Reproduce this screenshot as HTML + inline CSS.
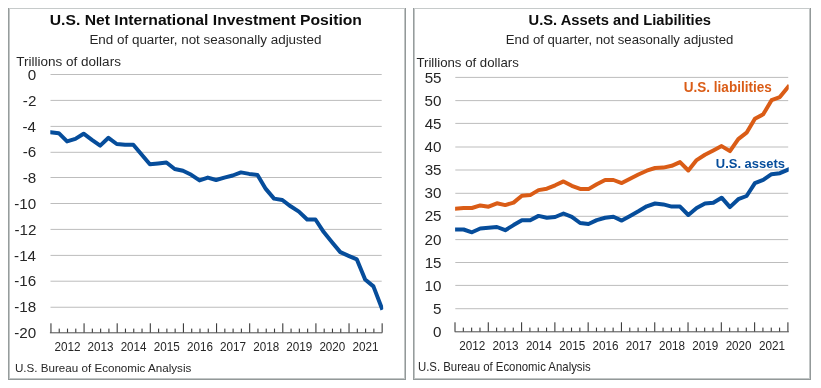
<!DOCTYPE html>
<html><head><meta charset="utf-8"><style>
html,body{margin:0;padding:0;background:#fff;width:821px;height:388px;overflow:hidden}
svg{display:block;font-family:"Liberation Sans",sans-serif;will-change:transform}
</style></head><body>
<svg width="821" height="388" viewBox="0 0 821 388" font-family="Liberation Sans, sans-serif">
<rect width="821" height="388" fill="#fff"/>
<rect x="8" y="8" width="398" height="372" fill="#fff"/>
<rect x="8" y="8" width="398" height="1" fill="#c6caca"/>
<rect x="8" y="8" width="1" height="372" fill="#969c9c"/>
<rect x="9" y="9" width="1" height="369" fill="#c2c6c6"/>
<rect x="404" y="9" width="1" height="370" fill="#c2c6c6"/>
<rect x="405" y="8" width="1" height="372" fill="#939999"/>
<rect x="9" y="378" width="396" height="1" fill="#c2c6c6"/>
<rect x="8" y="379" width="398" height="1" fill="#939999"/>
<rect x="413" y="8" width="398" height="372" fill="#fff"/>
<rect x="413" y="8" width="398" height="1" fill="#c6caca"/>
<rect x="413" y="8" width="1" height="372" fill="#969c9c"/>
<rect x="414" y="9" width="1" height="369" fill="#c2c6c6"/>
<rect x="809" y="9" width="1" height="370" fill="#c2c6c6"/>
<rect x="810" y="8" width="1" height="372" fill="#939999"/>
<rect x="414" y="378" width="396" height="1" fill="#c2c6c6"/>
<rect x="413" y="379" width="398" height="1" fill="#939999"/>
<text x="49.76" y="25.3" font-size="15.12" textLength="312.21" lengthAdjust="spacingAndGlyphs" font-weight="bold" fill="#0d0d0d">U.S. Net International Investment Position</text>
<text x="89.4" y="43.8" font-size="12.5" textLength="232.07" lengthAdjust="spacingAndGlyphs" fill="#262626">End of quarter, not seasonally adjusted</text>
<text x="16.3" y="65.9" font-size="13.23" textLength="104.59" lengthAdjust="spacingAndGlyphs" fill="#262626">Trillions of dollars</text>
<rect x="50.5" y="74" width="331.2" height="1" fill="#bdbdbd"/>
<rect x="50.5" y="99.9" width="331.2" height="1" fill="#bdbdbd"/>
<rect x="50.5" y="125.9" width="331.2" height="1" fill="#bdbdbd"/>
<rect x="50.5" y="151.8" width="331.2" height="1" fill="#bdbdbd"/>
<rect x="50.5" y="177" width="331.2" height="1" fill="#bdbdbd"/>
<rect x="50.5" y="203" width="331.2" height="1" fill="#bdbdbd"/>
<rect x="50.5" y="228.9" width="331.2" height="1" fill="#bdbdbd"/>
<rect x="50.5" y="254.9" width="331.2" height="1" fill="#bdbdbd"/>
<rect x="50.5" y="280.7" width="331.2" height="1" fill="#bdbdbd"/>
<rect x="50.5" y="306.75" width="331.2" height="1" fill="#bdbdbd"/>
<rect x="49.9" y="332.1" width="332.4" height="1.3" fill="#757575"/>
<rect x="50.4" y="323.3" width="1.1" height="9.3" fill="#3c3c3c"/>
<rect x="58.68" y="328.6" width="1.1" height="4" fill="#3c3c3c"/>
<rect x="66.96" y="328.6" width="1.1" height="4" fill="#3c3c3c"/>
<rect x="75.24" y="328.6" width="1.1" height="4" fill="#3c3c3c"/>
<rect x="83.52" y="323.3" width="1.1" height="9.3" fill="#3c3c3c"/>
<rect x="91.8" y="328.6" width="1.1" height="4" fill="#3c3c3c"/>
<rect x="100.08" y="328.6" width="1.1" height="4" fill="#3c3c3c"/>
<rect x="108.36" y="328.6" width="1.1" height="4" fill="#3c3c3c"/>
<rect x="116.64" y="323.3" width="1.1" height="9.3" fill="#3c3c3c"/>
<rect x="124.92" y="328.6" width="1.1" height="4" fill="#3c3c3c"/>
<rect x="133.2" y="328.6" width="1.1" height="4" fill="#3c3c3c"/>
<rect x="141.48" y="328.6" width="1.1" height="4" fill="#3c3c3c"/>
<rect x="149.76" y="323.3" width="1.1" height="9.3" fill="#3c3c3c"/>
<rect x="158.04" y="328.6" width="1.1" height="4" fill="#3c3c3c"/>
<rect x="166.32" y="328.6" width="1.1" height="4" fill="#3c3c3c"/>
<rect x="174.6" y="328.6" width="1.1" height="4" fill="#3c3c3c"/>
<rect x="182.88" y="323.3" width="1.1" height="9.3" fill="#3c3c3c"/>
<rect x="191.16" y="328.6" width="1.1" height="4" fill="#3c3c3c"/>
<rect x="199.44" y="328.6" width="1.1" height="4" fill="#3c3c3c"/>
<rect x="207.72" y="328.6" width="1.1" height="4" fill="#3c3c3c"/>
<rect x="216" y="323.3" width="1.1" height="9.3" fill="#3c3c3c"/>
<rect x="224.28" y="328.6" width="1.1" height="4" fill="#3c3c3c"/>
<rect x="232.56" y="328.6" width="1.1" height="4" fill="#3c3c3c"/>
<rect x="240.84" y="328.6" width="1.1" height="4" fill="#3c3c3c"/>
<rect x="249.12" y="323.3" width="1.1" height="9.3" fill="#3c3c3c"/>
<rect x="257.4" y="328.6" width="1.1" height="4" fill="#3c3c3c"/>
<rect x="265.68" y="328.6" width="1.1" height="4" fill="#3c3c3c"/>
<rect x="273.96" y="328.6" width="1.1" height="4" fill="#3c3c3c"/>
<rect x="282.24" y="323.3" width="1.1" height="9.3" fill="#3c3c3c"/>
<rect x="290.52" y="328.6" width="1.1" height="4" fill="#3c3c3c"/>
<rect x="298.8" y="328.6" width="1.1" height="4" fill="#3c3c3c"/>
<rect x="307.08" y="328.6" width="1.1" height="4" fill="#3c3c3c"/>
<rect x="315.36" y="323.3" width="1.1" height="9.3" fill="#3c3c3c"/>
<rect x="323.64" y="328.6" width="1.1" height="4" fill="#3c3c3c"/>
<rect x="331.92" y="328.6" width="1.1" height="4" fill="#3c3c3c"/>
<rect x="340.2" y="328.6" width="1.1" height="4" fill="#3c3c3c"/>
<rect x="348.48" y="323.3" width="1.1" height="9.3" fill="#3c3c3c"/>
<rect x="356.76" y="328.6" width="1.1" height="4" fill="#3c3c3c"/>
<rect x="365.04" y="328.6" width="1.1" height="4" fill="#3c3c3c"/>
<rect x="373.32" y="328.6" width="1.1" height="4" fill="#3c3c3c"/>
<rect x="381.6" y="323.3" width="1.1" height="9.3" fill="#3c3c3c"/>
<text x="27.75" y="79.65" font-size="15.19" fill="#262626">0</text>
<text x="22.86" y="105.55" font-size="15.19" fill="#262626">-2</text>
<text x="22.54" y="131.55" font-size="15.19" fill="#262626">-4</text>
<text x="22.77" y="157.45" font-size="15.19" fill="#262626">-6</text>
<text x="22.75" y="182.65" font-size="15.19" fill="#262626">-8</text>
<text x="14.25" y="208.65" font-size="15.19" fill="#262626">-10</text>
<text x="14.42" y="234.55" font-size="15.19" fill="#262626">-12</text>
<text x="14.1" y="260.55" font-size="15.19" fill="#262626">-14</text>
<text x="14.32" y="286.35" font-size="15.19" fill="#262626">-16</text>
<text x="14.31" y="312.4" font-size="15.19" fill="#262626">-18</text>
<text x="14.25" y="338" font-size="15.19" fill="#262626">-20</text>
<clipPath id="c84"><rect x="50.3" y="0" width="332.9" height="388"/></clipPath>
<polyline clip-path="url(#c84)" points="50.5,132.2 58.78,133.2 67.06,141.4 75.34,138.9 83.62,133.7 91.9,139.9 100.18,145.6 108.46,137.8 116.74,144 125.02,144.8 133.3,144.7 141.58,154.5 149.86,164.3 158.14,163.4 166.42,162.5 174.7,169 182.98,170.8 191.26,174.8 199.54,180.4 207.82,177.6 216.1,180 224.38,177.6 232.66,175.5 240.94,172.4 249.22,173.9 257.5,175 265.78,188.9 274.06,198.6 282.34,200 290.62,206.3 298.9,211.6 307.18,219.5 315.46,219.5 323.74,232.1 332.02,242.3 340.3,252.1 348.58,255.8 356.86,259.4 365.14,279.5 373.42,286.4 381.7,307.8" fill="none" stroke="#064d9b" stroke-width="4" stroke-linejoin="round" stroke-linecap="square"/>
<text x="54.42" y="351" font-size="12.03" textLength="26.08" lengthAdjust="spacingAndGlyphs" fill="#262626">2012</text>
<text x="87.55" y="351" font-size="12.03" textLength="26.01" lengthAdjust="spacingAndGlyphs" fill="#262626">2013</text>
<text x="120.67" y="351" font-size="12.03" textLength="25.82" lengthAdjust="spacingAndGlyphs" fill="#262626">2014</text>
<text x="153.79" y="351" font-size="12.03" textLength="25.98" lengthAdjust="spacingAndGlyphs" fill="#262626">2015</text>
<text x="186.91" y="351" font-size="12.03" textLength="26.01" lengthAdjust="spacingAndGlyphs" fill="#262626">2016</text>
<text x="220.02" y="351" font-size="12.03" textLength="26.08" lengthAdjust="spacingAndGlyphs" fill="#262626">2017</text>
<text x="253.15" y="351" font-size="12.03" textLength="25.99" lengthAdjust="spacingAndGlyphs" fill="#262626">2018</text>
<text x="286.26" y="351" font-size="12.03" textLength="26.04" lengthAdjust="spacingAndGlyphs" fill="#262626">2019</text>
<text x="319.39" y="351" font-size="12.03" textLength="25.95" lengthAdjust="spacingAndGlyphs" fill="#262626">2020</text>
<text x="352.5" y="351" font-size="12.03" textLength="26.07" lengthAdjust="spacingAndGlyphs" fill="#262626">2021</text>
<text x="14.9" y="371.8" font-size="11.77" textLength="176.41" lengthAdjust="spacingAndGlyphs" fill="#262626">U.S. Bureau of Economic Analysis</text>
<text x="528.62" y="25.2" font-size="15.26" textLength="182.39" lengthAdjust="spacingAndGlyphs" font-weight="bold" fill="#0d0d0d">U.S. Assets and Liabilities</text>
<text x="505.82" y="43.8" font-size="13.37" textLength="227.53" lengthAdjust="spacingAndGlyphs" fill="#262626">End of quarter, not seasonally adjusted</text>
<text x="416.41" y="66.5" font-size="12.79" textLength="102.37" lengthAdjust="spacingAndGlyphs" fill="#262626">Trillions of dollars</text>
<rect x="455.3" y="76.9" width="332.9" height="1" fill="#bdbdbd"/>
<rect x="455.3" y="100.1" width="332.9" height="1" fill="#bdbdbd"/>
<rect x="455.3" y="122.9" width="332.9" height="1" fill="#bdbdbd"/>
<rect x="455.3" y="146.5" width="332.9" height="1" fill="#bdbdbd"/>
<rect x="455.3" y="169.5" width="332.9" height="1" fill="#bdbdbd"/>
<rect x="455.3" y="192.8" width="332.9" height="1" fill="#bdbdbd"/>
<rect x="455.3" y="215.8" width="332.9" height="1" fill="#bdbdbd"/>
<rect x="455.3" y="239.1" width="332.9" height="1" fill="#bdbdbd"/>
<rect x="455.3" y="262" width="332.9" height="1" fill="#bdbdbd"/>
<rect x="455.3" y="284.9" width="332.9" height="1" fill="#bdbdbd"/>
<rect x="455.3" y="308.2" width="332.9" height="1" fill="#bdbdbd"/>
<rect x="454.7" y="331.1" width="334.1" height="1.3" fill="#757575"/>
<rect x="454.45" y="322.3" width="1.1" height="9.3" fill="#3c3c3c"/>
<rect x="462.77" y="327.6" width="1.1" height="4" fill="#3c3c3c"/>
<rect x="471.09" y="327.6" width="1.1" height="4" fill="#3c3c3c"/>
<rect x="479.42" y="327.6" width="1.1" height="4" fill="#3c3c3c"/>
<rect x="487.74" y="322.3" width="1.1" height="9.3" fill="#3c3c3c"/>
<rect x="496.06" y="327.6" width="1.1" height="4" fill="#3c3c3c"/>
<rect x="504.38" y="327.6" width="1.1" height="4" fill="#3c3c3c"/>
<rect x="512.71" y="327.6" width="1.1" height="4" fill="#3c3c3c"/>
<rect x="521.03" y="322.3" width="1.1" height="9.3" fill="#3c3c3c"/>
<rect x="529.35" y="327.6" width="1.1" height="4" fill="#3c3c3c"/>
<rect x="537.68" y="327.6" width="1.1" height="4" fill="#3c3c3c"/>
<rect x="546" y="327.6" width="1.1" height="4" fill="#3c3c3c"/>
<rect x="554.32" y="322.3" width="1.1" height="9.3" fill="#3c3c3c"/>
<rect x="562.64" y="327.6" width="1.1" height="4" fill="#3c3c3c"/>
<rect x="570.97" y="327.6" width="1.1" height="4" fill="#3c3c3c"/>
<rect x="579.29" y="327.6" width="1.1" height="4" fill="#3c3c3c"/>
<rect x="587.61" y="322.3" width="1.1" height="9.3" fill="#3c3c3c"/>
<rect x="595.93" y="327.6" width="1.1" height="4" fill="#3c3c3c"/>
<rect x="604.26" y="327.6" width="1.1" height="4" fill="#3c3c3c"/>
<rect x="612.58" y="327.6" width="1.1" height="4" fill="#3c3c3c"/>
<rect x="620.9" y="322.3" width="1.1" height="9.3" fill="#3c3c3c"/>
<rect x="629.22" y="327.6" width="1.1" height="4" fill="#3c3c3c"/>
<rect x="637.55" y="327.6" width="1.1" height="4" fill="#3c3c3c"/>
<rect x="645.87" y="327.6" width="1.1" height="4" fill="#3c3c3c"/>
<rect x="654.19" y="322.3" width="1.1" height="9.3" fill="#3c3c3c"/>
<rect x="662.51" y="327.6" width="1.1" height="4" fill="#3c3c3c"/>
<rect x="670.84" y="327.6" width="1.1" height="4" fill="#3c3c3c"/>
<rect x="679.16" y="327.6" width="1.1" height="4" fill="#3c3c3c"/>
<rect x="687.48" y="322.3" width="1.1" height="9.3" fill="#3c3c3c"/>
<rect x="695.8" y="327.6" width="1.1" height="4" fill="#3c3c3c"/>
<rect x="704.13" y="327.6" width="1.1" height="4" fill="#3c3c3c"/>
<rect x="712.45" y="327.6" width="1.1" height="4" fill="#3c3c3c"/>
<rect x="720.77" y="322.3" width="1.1" height="9.3" fill="#3c3c3c"/>
<rect x="729.09" y="327.6" width="1.1" height="4" fill="#3c3c3c"/>
<rect x="737.42" y="327.6" width="1.1" height="4" fill="#3c3c3c"/>
<rect x="745.74" y="327.6" width="1.1" height="4" fill="#3c3c3c"/>
<rect x="754.06" y="322.3" width="1.1" height="9.3" fill="#3c3c3c"/>
<rect x="762.38" y="327.6" width="1.1" height="4" fill="#3c3c3c"/>
<rect x="770.71" y="327.6" width="1.1" height="4" fill="#3c3c3c"/>
<rect x="779.03" y="327.6" width="1.1" height="4" fill="#3c3c3c"/>
<rect x="787.35" y="322.3" width="1.1" height="9.3" fill="#3c3c3c"/>
<text x="424.65" y="82.55" font-size="15.19" fill="#262626">55</text>
<text x="424.61" y="105.75" font-size="15.19" fill="#262626">50</text>
<text x="424.65" y="128.55" font-size="15.19" fill="#262626">45</text>
<text x="424.61" y="152.15" font-size="15.19" fill="#262626">40</text>
<text x="424.65" y="175.15" font-size="15.19" fill="#262626">35</text>
<text x="424.61" y="198.45" font-size="15.19" fill="#262626">30</text>
<text x="424.65" y="221.45" font-size="15.19" fill="#262626">25</text>
<text x="424.61" y="244.75" font-size="15.19" fill="#262626">20</text>
<text x="424.65" y="267.65" font-size="15.19" fill="#262626">15</text>
<text x="424.61" y="290.55" font-size="15.19" fill="#262626">10</text>
<text x="433.09" y="313.85" font-size="15.19" fill="#262626">5</text>
<text x="433.05" y="336.65" font-size="15.19" fill="#262626">0</text>
<clipPath id="c165"><rect x="455.1" y="0" width="333.6" height="388"/></clipPath>
<polyline clip-path="url(#c165)" points="455.3,208.8 463.62,208 471.94,208 480.27,205.4 488.59,206.7 496.91,203.3 505.24,205.1 513.56,202.6 521.88,195.8 530.2,195.1 538.53,190.1 546.85,188.7 555.17,185.3 563.49,181.4 571.82,185.8 580.14,188.9 588.46,189.1 596.78,184.2 605.11,180 613.43,180 621.75,183.1 630.07,178.7 638.39,174.5 646.72,170.7 655.04,168 663.36,167.6 671.69,165.8 680.01,162.1 688.33,170.5 696.65,160.1 704.98,154.7 713.3,150.5 721.62,146.1 729.94,151.1 738.27,139.1 746.59,132.7 754.91,118.7 763.23,114.3 771.56,100.2 779.88,97.1 788.2,86.9" fill="none" stroke="#da5c16" stroke-width="4" stroke-linejoin="round" stroke-linecap="square"/>
<clipPath id="c167"><rect x="455.1" y="0" width="333.6" height="388"/></clipPath>
<polyline clip-path="url(#c167)" points="455.3,229.5 463.62,229.5 471.94,232.3 480.27,228.5 488.59,227.8 496.91,227 505.24,230.2 513.56,225.1 521.88,220.3 530.2,220.2 538.53,215.9 546.85,217.8 555.17,217 563.49,213.5 571.82,216.9 580.14,223 588.46,224 596.78,220.1 605.11,217.8 613.43,216.8 621.75,220.6 630.07,216 638.39,211.3 646.72,206.3 655.04,203.5 663.36,204.4 671.69,206.6 680.01,206.6 688.33,215 696.65,208 704.98,203.6 713.3,202.7 721.62,197.7 729.94,207.1 738.27,199.2 746.59,196 754.91,183.2 763.23,179.9 771.56,174.2 779.88,173.2 788.2,169.6" fill="none" stroke="#064d9b" stroke-width="4" stroke-linejoin="round" stroke-linecap="square"/>
<text x="459.31" y="350.1" font-size="12.18" textLength="26.08" lengthAdjust="spacingAndGlyphs" fill="#262626">2012</text>
<text x="492.6" y="350.1" font-size="12.18" textLength="26.01" lengthAdjust="spacingAndGlyphs" fill="#262626">2013</text>
<text x="525.89" y="350.1" font-size="12.18" textLength="25.82" lengthAdjust="spacingAndGlyphs" fill="#262626">2014</text>
<text x="559.18" y="350.1" font-size="12.18" textLength="25.98" lengthAdjust="spacingAndGlyphs" fill="#262626">2015</text>
<text x="592.47" y="350.1" font-size="12.18" textLength="26.01" lengthAdjust="spacingAndGlyphs" fill="#262626">2016</text>
<text x="625.76" y="350.1" font-size="12.18" textLength="26.08" lengthAdjust="spacingAndGlyphs" fill="#262626">2017</text>
<text x="659.05" y="350.1" font-size="12.18" textLength="25.99" lengthAdjust="spacingAndGlyphs" fill="#262626">2018</text>
<text x="692.34" y="350.1" font-size="12.18" textLength="26.04" lengthAdjust="spacingAndGlyphs" fill="#262626">2019</text>
<text x="725.63" y="350.1" font-size="12.18" textLength="25.95" lengthAdjust="spacingAndGlyphs" fill="#262626">2020</text>
<text x="758.92" y="350.1" font-size="12.18" textLength="26.07" lengthAdjust="spacingAndGlyphs" fill="#262626">2021</text>
<text x="417.92" y="371.3" font-size="12.06" textLength="172.89" lengthAdjust="spacingAndGlyphs" fill="#262626">U.S. Bureau of Economic Analysis</text>
<text x="683.79" y="92.4" font-size="14.24" textLength="87.97" lengthAdjust="spacingAndGlyphs" font-weight="bold" fill="#da5c16">U.S. liabilities</text>
<text x="715.82" y="168" font-size="13.66" textLength="69.11" lengthAdjust="spacingAndGlyphs" font-weight="bold" fill="#064d9b">U.S. assets</text>
</svg>
</body></html>
